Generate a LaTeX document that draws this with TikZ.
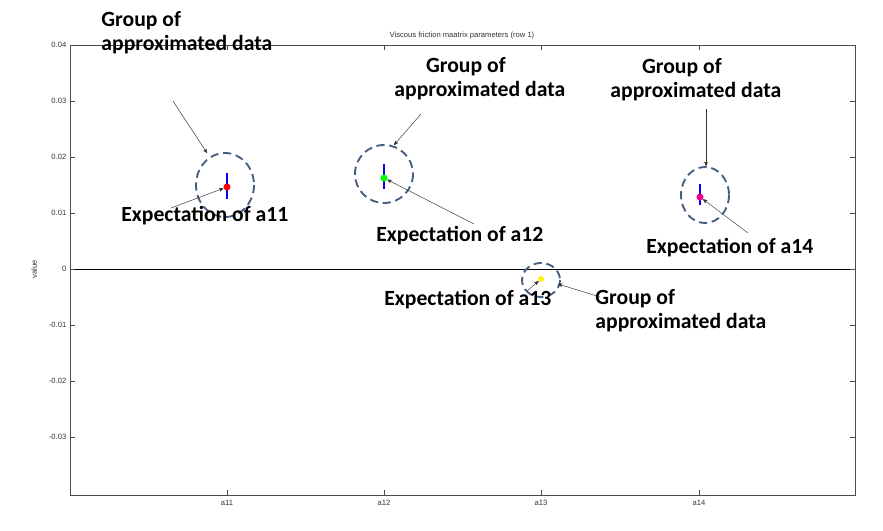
\documentclass[tikz,border=0pt]{standalone}
\usepackage{fontspec}
\setmainfont{Carlito}
\newfontfamily\axfont{Liberation Sans}
\usetikzlibrary{arrows,positioning}
\definecolor{grpblue}{RGB}{68,95,128}
\begin{document}
\begin{tikzpicture}[x=0.03cm,y=-0.03cm]
  \tikzstyle{every node}=[inner sep=1pt]
  \tikzstyle{lab}=[font=\fontsize{18.5}{20.5}\selectfont\bfseries, align=left, anchor=north west]
  \tikzstyle{ax}=[font=\axfont\fontsize{6.5}{7}\selectfont, text=black!80, text height=5pt, text depth=0pt]
  \tikzstyle{grp}=[draw=grpblue, line width=1.6pt, dash pattern=on 7pt off 4pt]
  \tikzstyle{pt}=[->,>=stealth',thin,draw=black!80]
  \useasboundingbox (0,0) rectangle (883,531);
  % axes
  \draw[black!70] (70,45) rectangle (855,495);
  \draw[black] (70,269) -- (855,269);
  \foreach \x/\t in {227/a11,384/a12,541/a13,699/a14}{
    \draw[black!70] (\x,45) -- (\x,50) (\x,495) -- (\x,490);
    \node[ax, below=3pt] at (\x,495) {\t};
  }
  \foreach \y/\t in {45/0.04,101/0.03,157/0.02,213/0.01,269/0,325/-0.01,381/-0.02,437/-0.03}{
    \draw[black!70] (70,\y) -- (75,\y) (855,\y) -- (850,\y);
    \node[ax, left=2pt] at (70,\y) {\t};
  }
  \node[ax] (title) at (462,35) {Viscous friction maatrix parameters (row 1)};
  \node[ax, rotate=90] (ylab) at (34,269) {value};
  % data
  \draw[blue, line width=2pt] (227,173) -- (227,199);
  \draw[blue, line width=2pt] (384,164) -- (384,189);
  \draw[blue, line width=2pt] (700,184) -- (700,205);
  \node[circle, fill=red, minimum size=6pt, inner sep=0pt] (e11) at (227,187) {};
  \node[circle, fill=green, minimum size=6pt, inner sep=0pt] (e12) at (384,178) {};
  \node[circle, fill=yellow, minimum size=5pt, inner sep=0pt] (e13) at (541,279) {};
  \node[circle, fill=magenta, minimum size=6pt, inner sep=0pt] (e14) at (700,197) {};
  \draw[grp] (225,185) ellipse (29 and 32);
  \draw[grp] (384,174) ellipse (29 and 29);
  \draw[grp] (705,195) ellipse (24 and 28);
  \draw[grp] (541,280) ellipse (19 and 17);
  \coordinate (g11) at (207,153);
  \coordinate (g12) at (394,145);
  \coordinate (g14) at (706,166);
  \coordinate (g13) at (558,284);
  % labels
  \node[lab] (tg11) at (100,10) {Group of\\approximated data};
  \node[lab] (tg12) at (393,56) {\hspace*{27pt}Group of\\approximated data};
  \node[lab] (tg14) at (609,57) {\hspace*{27pt}Group of\\approximated data};
  \node[lab] (tg13) at (594,288) {Group of\\approximated data};
  \node[lab] (te11) at (120,205) {Expectation of a11};
  \node[lab] (te12) at (375,225) {Expectation of a12};
  \node[lab] (te14) at (645,237) {Expectation of a14};
  \node[lab] (te13) at (383,289) {Expectation of a13};
  \draw[pt] (173,101) -- (g11);
  \draw[pt] (421,114) -- (g12);
  \draw[pt] (706,109) -- (g14);
  \draw[pt] (600,297) -- (g13);
  \draw[pt] (171,208) -- (e11);
  \draw[pt] (474,224) -- (e12);
  \draw[pt] (748,233) -- (e14);
  \draw[pt] (527,291) -- (e13);
\end{tikzpicture}
\end{document}
